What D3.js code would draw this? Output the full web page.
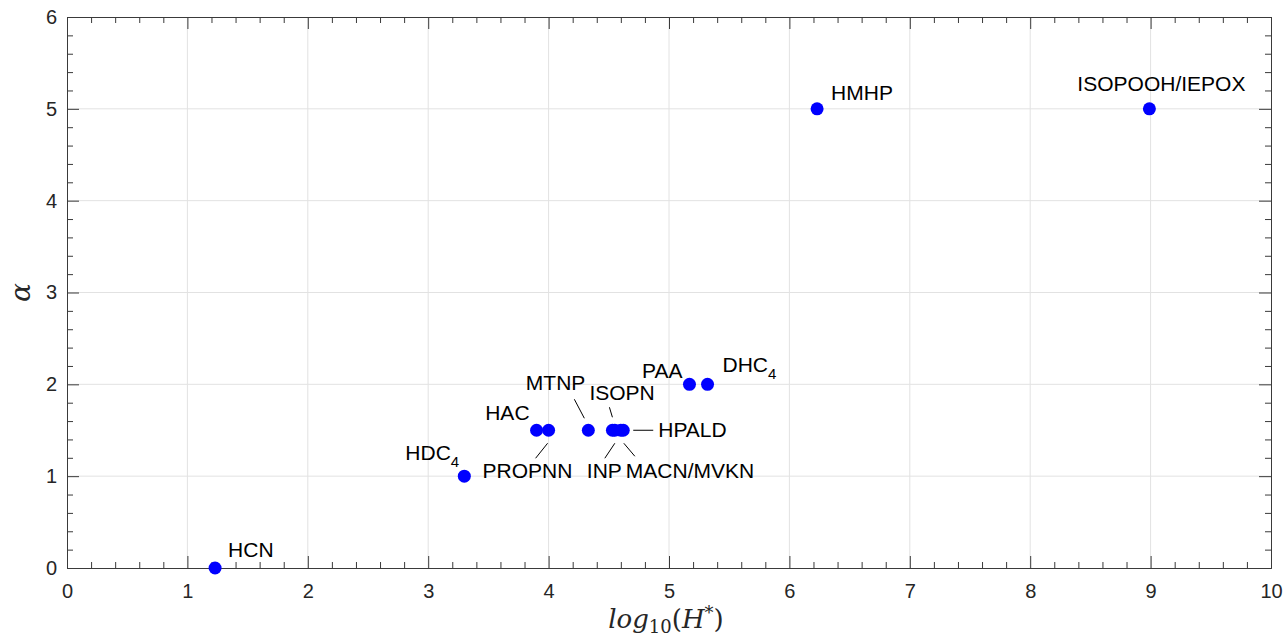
<!DOCTYPE html>
<html>
<head>
<meta charset="utf-8">
<script src="https://cdn.jsdelivr.net/npm/d3@7"></script>
<style>
body { margin: 0; background: #fff; }
text { font-family: "Liberation Sans", Arial, sans-serif; }
</style>
</head>
<body>
<div id="chart"></div>
<script>
var width = 1286;
var height = 640;
var margin = {top: 17, right: 15, bottom: 72, left: 67};

// species, log10(H*), alpha
var names  = ["HCN", "HDC4", "HAC", "PROPNN", "MTNP", "ISOPN", "INP", "MACN/MVKN", "HPALD", "PAA", "DHC4", "HMHP", "ISOPOOH/IEPOX"];
var logH   = [1.23, 3.30, 3.90, 4.00, 4.33, 4.53, 4.55, 4.60, 4.62, 5.17, 5.32, 6.23, 8.99];
var alphas = [0, 1, 1.5, 1.5, 1.5, 1.5, 1.5, 1.5, 1.5, 2, 2, 5, 5];
var xTicks = [0, 1, 2, 3, 4, 5, 6, 7, 8, 9, 10];
var yTicks = [0, 1, 2, 3, 4, 5, 6];

// label placement relative to the marker (pixels), plus optional leader line
var labelPos = {
	"HCN":           {dx: 13,  dy: -11, anchor: "start"},
	"HDC4":          {dx: -59, dy: -16, anchor: "start"},
	"HAC":           {dx: -7,  dy: -10, anchor: "end"},
	"PROPNN":        {dx: -66, dy: 48,  anchor: "start", line: [-1, 13, -13, 28]},
	"MTNP":          {dx: -3,  dy: -40, anchor: "end",   line: [-14, -31, -4, -12]},
	"ISOPN":         {dx: -23, dy: -30, anchor: "start", line: [-3, -23, 0, -13]},
	"INP":           {dx: -28, dy: 48,  anchor: "start", line: [0, 13, -10, 28]},
	"MACN/MVKN":     {dx: 5,   dy: 48,  anchor: "start", line: [3, 13, 14, 26]},
	"HPALD":         {dx: 35,  dy: 7,   anchor: "start", line: [10, 0, 30, 0]},
	"PAA":           {dx: -7,  dy: -6,  anchor: "end"},
	"DHC4":          {dx: 15,  dy: -12, anchor: "start"},
	"HMHP":          {dx: 14,  dy: -9,  anchor: "start"},
	"ISOPOOH/IEPOX": {dx: 12,  dy: -18, anchor: "middle"}
};

var points = names.map(function(n, i) {
	return {name: n, x: logH[i], y: alphas[i]};
});

var svg = d3.select("#chart").append("svg")
	.attr("width", width)
	.attr("height", height);

var x = d3.scaleLinear().domain([0, 10]).range([margin.left, width - margin.right]);
var y = d3.scaleLinear().domain([0, 6]).range([height - margin.bottom, margin.top]);

var x0 = x.range()[0], x1 = x.range()[1];
var y0 = y.range()[0], y1 = y.range()[1];

// grid
svg.append("g").selectAll("line")
	.data(xTicks.slice(1, -1)).enter().append("line")
	.attr("x1", d => x(d)).attr("x2", d => x(d))
	.attr("y1", y0).attr("y2", y1)
	.attr("stroke", "#e2e2e2").attr("stroke-width", 1);
svg.append("g").selectAll("line")
	.data(yTicks.slice(1, -1)).enter().append("line")
	.attr("y1", d => y(d)).attr("y2", d => y(d))
	.attr("x1", x0).attr("x2", x1)
	.attr("stroke", "#e2e2e2").attr("stroke-width", 1);

var minorX = d3.range(0, 50).map(d => d / 5).filter(d => d % 1 !== 0);
var minorY = d3.range(0, 30).map(d => d / 5).filter(d => d % 1 !== 0);

function styleAxis(g) {
	g.select(".domain").attr("stroke", "#3a3a3a");
	g.selectAll(".tick line").attr("stroke", "#3a3a3a");
	g.selectAll(".tick text")
		.attr("fill", "#262626")
		.style("font-size", "20px")
		.style("font-family", "'Liberation Sans', Arial, sans-serif");
}

// bottom
svg.append("g").attr("transform", "translate(0," + y0 + ")")
	.call(d3.axisBottom(x).tickValues(minorX).tickSize(-6).tickFormat("").tickSizeOuter(0))
	.call(styleAxis);
svg.append("g").attr("transform", "translate(0," + y0 + ")")
	.call(d3.axisBottom(x).tickValues(xTicks).tickSize(-12).tickPadding(16).tickSizeOuter(0).tickFormat(d3.format("d")))
	.call(styleAxis);
// top
svg.append("g").attr("transform", "translate(0," + y1 + ")")
	.call(d3.axisTop(x).tickValues(minorX).tickSize(-6).tickFormat("").tickSizeOuter(0))
	.call(styleAxis);
svg.append("g").attr("transform", "translate(0," + y1 + ")")
	.call(d3.axisTop(x).tickValues(xTicks).tickSize(-12).tickFormat("").tickSizeOuter(0))
	.call(styleAxis);
// left
svg.append("g").attr("transform", "translate(" + x0 + ",0)")
	.call(d3.axisLeft(y).tickValues(minorY).tickSize(-6).tickFormat("").tickSizeOuter(0))
	.call(styleAxis);
svg.append("g").attr("transform", "translate(" + x0 + ",0)")
	.call(d3.axisLeft(y).tickValues(yTicks).tickSize(-12).tickPadding(10).tickSizeOuter(0).tickFormat(d3.format("d")))
	.call(styleAxis);
// right
svg.append("g").attr("transform", "translate(" + x1 + ",0)")
	.call(d3.axisRight(y).tickValues(minorY).tickSize(-6).tickFormat("").tickSizeOuter(0))
	.call(styleAxis);
svg.append("g").attr("transform", "translate(" + x1 + ",0)")
	.call(d3.axisRight(y).tickValues(yTicks).tickSize(-12).tickFormat("").tickSizeOuter(0))
	.call(styleAxis);

// leader lines
svg.append("g").selectAll("line")
	.data(points.filter(d => labelPos[d.name].line)).enter().append("line")
	.attr("x1", d => x(d.x) + labelPos[d.name].line[0])
	.attr("y1", d => y(d.y) + labelPos[d.name].line[1])
	.attr("x2", d => x(d.x) + labelPos[d.name].line[2])
	.attr("y2", d => y(d.y) + labelPos[d.name].line[3])
	.attr("stroke", "#000").attr("stroke-width", 1);

// markers
svg.append("g").selectAll("circle")
	.data(points).enter().append("circle")
	.attr("cx", d => x(d.x))
	.attr("cy", d => y(d.y))
	.attr("r", 6.5)
	.attr("fill", "#0000ff");

// labels (subscript 4 for HDC4 / DHC4)
var labels = svg.append("g").selectAll("text")
	.data(points).enter().append("text")
	.attr("x", d => x(d.x) + labelPos[d.name].dx)
	.attr("y", d => y(d.y) + labelPos[d.name].dy)
	.attr("text-anchor", d => labelPos[d.name].anchor)
	.style("font-size", "21px")
	.attr("fill", "#000");
labels.each(function(d) {
	var t = d3.select(this);
	var m = d.name.match(/^(.*C)4$/);
	if (m) {
		t.append("tspan").text(m[1]);
		t.append("tspan").attr("dy", 7).style("font-size", "15px").text("4");
	} else {
		t.text(d.name);
	}
});

// axis titles
var xt = svg.append("text")
	.attr("x", (x0 + x1) / 2 - 3)
	.attr("y", 628)
	.attr("text-anchor", "middle")
	.style("font-family", "'DejaVu Serif', serif")
	.style("font-size", "26px")
	.attr("fill", "#262626");
xt.append("tspan").style("font-style", "italic").text("log");
xt.append("tspan").attr("dy", 5).style("font-size", "18px").text("10");
xt.append("tspan").attr("dy", -5).text("(");
xt.append("tspan").style("font-style", "italic").text("H");
xt.append("tspan").attr("dy", -9).style("font-size", "18px").text("*");
xt.append("tspan").attr("dy", 9).text(")");

svg.append("text")
	.attr("transform", "translate(30," + ((y0 + y1) / 2) + ") rotate(-90)")
	.attr("text-anchor", "middle")
	.style("font-family", "'DejaVu Serif', serif")
	.style("font-style", "italic")
	.style("font-size", "28px")
	.attr("fill", "#262626")
	.text("α");
</script>
</body>
</html>
